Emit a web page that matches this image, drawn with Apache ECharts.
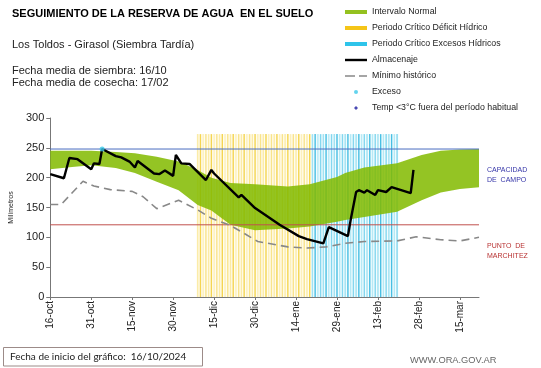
<!DOCTYPE html>
<html><head><meta charset="utf-8">
<script src="https://cdn.jsdelivr.net/npm/echarts@6/dist/echarts.min.js"></script>
<style>html,body{margin:0;padding:0;background:#fff}#c{width:541px;height:368px}</style>
</head><body><div id="c"></div>
<script>
// ---- data (x = days since 16-oct) ----
const tickLabels = ['16-oct','31-oct','15-nov','30-nov','15-dic','30-dic','14-ene','29-ene','13-feb','28-feb','15-mar'];
const bandDays  = [0, 8, 15, 24, 31, 39, 47, 54, 59, 66, 75, 87, 95, 105, 108, 115, 127, 136, 143, 150, 157];
const bandUpper = [245, 245, 245, 243, 241, 235, 227, 213, 200, 191, 189, 185, 189, 201, 208, 217, 224, 238, 245, 247, 248];
const bandLower = [214, 218, 221, 216, 208, 193, 179, 154, 145, 121, 112, 115, 118, 126, 129, 134, 143, 162, 175, 181, 184];
const minDays = [0, 4, 12, 16, 22, 30, 34, 39, 47, 54, 59, 66, 76, 87, 94, 101, 108, 115, 127, 134, 143, 150, 157];
const minVals = [155, 155, 194, 186, 180, 177, 168, 148, 162, 146, 132, 120, 93, 84, 82, 84, 90, 93, 94, 101, 96, 94, 100];
const storDays = [0, 5, 7, 10, 15, 16, 18, 19, 24, 26, 29, 31, 32, 38, 40, 42, 45, 46, 48, 51, 57, 59, 60, 69, 70, 75, 84, 91, 94, 100, 102, 109, 110, 112, 113, 115, 116, 119, 120, 123, 125, 132, 133];
const storVals = [206, 199, 233, 231, 214, 224, 223, 248, 236, 234, 227, 217, 228, 207, 206, 212, 203, 238, 224, 223, 196, 213, 207, 167, 171, 149, 121, 102, 97, 90, 117, 102, 129, 176, 179, 175, 179, 171, 179, 176, 184, 174, 213];
const excesoPts = [[19, 248]];
const tempPts = [];
const capacidadCampo = 248;
const puntoMarchitez = 121;
const deficitPeriod = [54, 95];   // first and last day
const excesoPeriod = [96, 127];
const periodTop = 273;
const xMax = 157;

function periodData(p){ const out=[]; for(let d=p[0]; d<=p[1]; d++) out.push([d, periodTop]); return out; }

const FONT = '"Liberation Sans", Arial, sans-serif';

function stripeRender(pale, colors){
  return function(params, api){
    const x = api.value(0), v = api.value(1);
    const top = api.coord([x, v]);
    const bot = api.coord([x, 0]);
    const w = api.size([1, 0])[0];
    const c = colors[params.dataIndex % colors.length];
    return {type:'group', children:[
      {type:'rect', shape:{x: top[0]-w/2, y: top[1], width: w, height: bot[1]-top[1]}, style:{fill: pale}},
      {type:'rect', shape:{x: top[0]-0.7, y: top[1], width: 1.4, height: bot[1]-top[1]}, style:{fill: c}}
    ]};
  };
}

const chart = echarts.init(document.getElementById('c'), null, {renderer:'canvas'});
chart.setOption({
  animation:false,
  backgroundColor:'#fff',
  grid:{left:33, right:62, top:118, bottom:71, containLabel:false},
  xAxis:{type:'value', min:0, max:xMax, interval:15,
    axisLine:{show:true, lineStyle:{color:'#777', width:1}},
    axisTick:{show:true, length:3, lineStyle:{color:'#777'}},
    splitLine:{show:false},
    axisLabel:{rotate:90, margin:4, fontSize:10, fontFamily:FONT, color:'#222', showMaxLabel:false,
      formatter: v => (v % 15 === 0 && tickLabels[v/15]) ? tickLabels[v/15] : ''}
  },
  yAxis:{type:'value', min:0, max:300, interval:50,
    name:'Milímetros', nameLocation:'middle', nameRotate:90, nameGap:20,
    nameTextStyle:{fontSize:7, fontFamily:FONT, color:'#222'},
    axisLine:{show:true, lineStyle:{color:'#777', width:1}},
    axisTick:{show:true, length:4, lineStyle:{color:'#777'}},
    splitLine:{show:false},
    axisLabel:{fontSize:11, fontFamily:FONT, color:'#222', margin:6}
  },
  legend:{orient:'vertical', left:340, top:1, itemWidth:22, itemHeight:4, itemGap:4, selectedMode:false,
    textStyle:{fontSize:8.8, fontFamily:FONT, color:'#222', lineHeight:12},
    data:[
      {name:'Intervalo Normal', icon:'rect', itemStyle:{color:'#94c11f', borderWidth:0}},
      {name:'Periodo Crítico Déficit Hídrico', icon:'rect', itemStyle:{color:'#f5c518', borderWidth:0}},
      {name:'Periodo Crítico Excesos Hídricos', icon:'rect', itemStyle:{color:'#2ec4ea', borderWidth:0}},
      {name:'Almacenaje', icon:'path://M0,0H22V2.4H0Z', itemStyle:{color:'#000', borderWidth:0}},
      {name:'Mínimo histórico', icon:'path://M0,0H10V1.6H0ZM14,0H22V1.6H14Z', itemStyle:{color:'#888', borderWidth:0}},
      {name:'Exceso', icon:'circle', itemStyle:{color:'#3cc8e8', borderWidth:0}},
      {name:'Temp <3°C fuera del período habitual', icon:'path://M3,0L6,3L3,6L0,3Z', itemStyle:{color:'#1c1ca0', borderWidth:0}}
    ]
  },
  graphic:[
    {type:'text', x:12, y:14, style:{text:'SEGUIMIENTO DE LA RESERVA DE AGUA  EN EL SUELO', font:'bold 11px '+FONT, fill:'#000', verticalAlign:'middle'}},
    {type:'text', x:12, y:45, style:{text:'Los Toldos - Girasol (Siembra Tardía)', font:'11px '+FONT, fill:'#222', verticalAlign:'middle'}},
    {type:'text', x:12, y:71, style:{text:'Fecha media de siembra: 16/10', font:'11px '+FONT, fill:'#222', verticalAlign:'middle'}},
    {type:'text', x:12, y:83, style:{text:'Fecha media de cosecha: 17/02', font:'11px '+FONT, fill:'#222', verticalAlign:'middle'}},
    {type:'text', x:487, y:170, style:{text:'CAPACIDAD', font:'7px '+FONT, fill:'#3535a8', verticalAlign:'middle'}},
    {type:'text', x:487, y:180, style:{text:'DE  CAMPO', font:'7px '+FONT, fill:'#3535a8', verticalAlign:'middle'}},
    {type:'text', x:487, y:246, style:{text:'PUNTO  DE', font:'7px '+FONT, fill:'#b83232', verticalAlign:'middle'}},
    {type:'text', x:487, y:256, style:{text:'MARCHITEZ', font:'7px '+FONT, fill:'#b83232', verticalAlign:'middle'}},
    {type:'rect', shape:{x:3.5, y:347.5, width:199, height:18.5}, style:{fill:'none', stroke:'#9c8b88', lineWidth:1}},
    {type:'text', x:10, y:357, style:{text:'Fecha de inicio del gráfico:  16/10/2024', font:'10px Lato, "Open Sans", sans-serif', fill:'#222', verticalAlign:'middle'}},
    {type:'text', x:410, y:360, style:{text:'WWW.ORA.GOV.AR', font:'9.3px '+FONT, fill:'#666', verticalAlign:'middle'}}
  ],
  series:[
    {name:'Periodo Crítico Déficit Hídrico', type:'custom', z:1,
      data: periodData(deficitPeriod), encode:{x:0, y:1},
      renderItem: stripeRender('rgba(255,246,200,0.3)', ['rgba(246,214,80,0.45)','rgba(240,200,30,0.75)','rgba(248,222,110,0.4)','rgba(244,208,60,0.55)'])
    },
    {name:'Periodo Crítico Excesos Hídricos', type:'custom', z:1,
      data: periodData(excesoPeriod), encode:{x:0, y:1},
      renderItem: stripeRender('rgba(210,245,252,0.3)', ['rgba(80,200,230,0.5)','rgba(30,175,220,0.8)','rgba(110,210,235,0.45)','rgba(60,190,228,0.6)'])
    },
    {name:'Intervalo Normal', type:'custom', z:2, clip:true,
      data: bandDays.map((d,i)=>[d, bandLower[i], bandUpper[i]]),
      encode:{x:0, y:[1,2]},
      renderItem:function(params, api){
        if (params.dataIndex !== 0) return null;
        const pts = [];
        for (let i=0;i<bandDays.length;i++) pts.push(api.coord([bandDays[i], bandUpper[i]]));
        for (let i=bandDays.length-1;i>=0;i--) pts.push(api.coord([bandDays[i], bandLower[i]]));
        return {type:'polygon', shape:{points:pts}, style:{fill:'rgb(130,186,0)', opacity:0.86}};
      }
    },
    {name:'CC', type:'line', z:4, silent:true, symbol:'none', data:[[0, capacidadCampo],[xMax, capacidadCampo]], lineStyle:{color:'#4a6cc0', width:1}},
    {name:'PM', type:'line', z:4, silent:true, symbol:'none', data:[[0, puntoMarchitez],[xMax, puntoMarchitez]], lineStyle:{color:'#c0504d', width:1}},
    {name:'Mínimo histórico', type:'line', z:5, symbol:'none', data: minDays.map((d,i)=>[d, minVals[i]]),
      lineStyle:{color:'#888', width:1.6, type:[8,5]}, itemStyle:{color:'#888'}},
    {name:'Almacenaje', type:'line', z:6, symbol:'none', data: storDays.map((d,i)=>[d, storVals[i]]),
      lineStyle:{color:'#000', width:2.4}, itemStyle:{color:'#000'}},
    {name:'Exceso', type:'scatter', z:7, symbolSize:5, data: excesoPts, itemStyle:{color:'#3cc8e8'}},
    {name:'Temp <3°C fuera del período habitual', type:'scatter', z:7, symbol:'diamond', symbolSize:6, data: tempPts, itemStyle:{color:'#1c1ca0'}}
  ]
});
</script></body></html>
